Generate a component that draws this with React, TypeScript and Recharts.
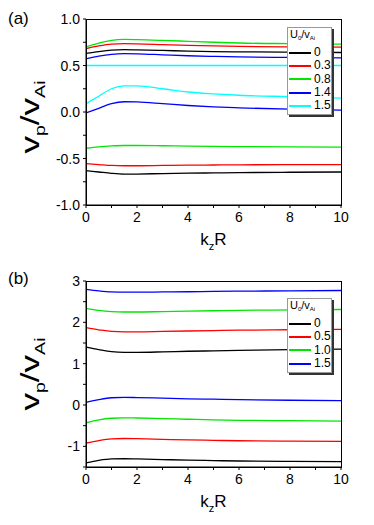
import React from 'react';
import { LineChart, Line, XAxis, YAxis, Legend, Label } from 'recharts';

const FONT = '"Liberation Sans", Arial, sans-serif';

const xValues = [0, 0.5, 1, 1.5, 2, 3, 4, 5, 6, 8, 10];
const xTicks = [0, 1, 2, 3, 4, 5, 6, 7, 8, 9, 10];

// Panel (a)
const aLegendLabels = ['0', '0.3', '0.8', '1.4', '1.5'];
const aColors = ['#000000', '#ff0000', '#00e600', '#0000ff', '#00ffff'];
const aBlackUpper = [0.63, 0.65, 0.665, 0.67, 0.668, 0.662, 0.655, 0.65, 0.647, 0.643, 0.64];
const aBlackLower = [-0.63, -0.645, -0.66, -0.668, -0.667, -0.662, -0.658, -0.655, -0.652, -0.648, -0.645];
const aRedUpper = [0.68, 0.71, 0.73, 0.735, 0.733, 0.725, 0.717, 0.71, 0.705, 0.7, 0.698];
const aRedLower = [-0.555, -0.565, -0.575, -0.578, -0.578, -0.575, -0.572, -0.57, -0.568, -0.566, -0.565];
const aGreenUpper = [0.7, 0.74, 0.77, 0.78, 0.778, 0.77, 0.76, 0.75, 0.742, 0.735, 0.73];
const aGreenLower = [-0.39, -0.375, -0.365, -0.36, -0.36, -0.363, -0.367, -0.37, -0.372, -0.375, -0.377];
const aBlueUpper = [0.57, 0.6, 0.62, 0.627, 0.625, 0.615, 0.605, 0.598, 0.592, 0.587, 0.583];
const aBlueLower = [-0.01, 0.04, 0.09, 0.11, 0.108, 0.09, 0.07, 0.055, 0.045, 0.03, 0.02];
const aCyanUpper = [0.5, 0.5, 0.5, 0.5, 0.5, 0.5, 0.5, 0.5, 0.5, 0.5, 0.5];
const aCyanLower = [0.09, 0.17, 0.25, 0.28, 0.28, 0.25, 0.215, 0.195, 0.18, 0.165, 0.15];
const aYTicks = [-1, -0.75, -0.5, -0.25, 0, 0.25, 0.5, 0.75, 1];

// Panel (b)
const bLegendLabels = ['0', '0.5', '1.0', '1.5'];
const bColors = ['#000000', '#ff0000', '#00e600', '#0000ff'];
const bBlackUpper = [1.4, 1.34, 1.29, 1.275, 1.275, 1.285, 1.3, 1.31, 1.32, 1.34, 1.35];
const bBlackLower = [-1.4, -1.34, -1.305, -1.3, -1.305, -1.32, -1.335, -1.345, -1.355, -1.365, -1.37];
const bRedUpper = [1.87, 1.82, 1.78, 1.77, 1.77, 1.78, 1.79, 1.8, 1.81, 1.82, 1.83];
const bRedLower = [-0.92, -0.86, -0.82, -0.81, -0.815, -0.83, -0.845, -0.855, -0.865, -0.875, -0.88];
const bGreenUpper = [2.34, 2.29, 2.26, 2.25, 2.25, 2.26, 2.27, 2.28, 2.29, 2.3, 2.31];
const bGreenLower = [-0.43, -0.36, -0.32, -0.31, -0.315, -0.33, -0.345, -0.36, -0.37, -0.38, -0.39];
const bBlueUpper = [2.8, 2.76, 2.735, 2.73, 2.73, 2.735, 2.74, 2.75, 2.755, 2.76, 2.77];
const bBlueLower = [0.065, 0.13, 0.175, 0.185, 0.18, 0.165, 0.15, 0.14, 0.13, 0.115, 0.105];
const bYTicks = [-1.5, -1, -0.5, 0, 0.5, 1, 1.5, 2, 2.5, 3];

const aSeries = [
  { key: 'blackU', values: aBlackUpper, color: aColors[0] },
  { key: 'blackL', values: aBlackLower, color: aColors[0] },
  { key: 'redU', values: aRedUpper, color: aColors[1] },
  { key: 'redL', values: aRedLower, color: aColors[1] },
  { key: 'greenU', values: aGreenUpper, color: aColors[2] },
  { key: 'greenL', values: aGreenLower, color: aColors[2] },
  { key: 'blueU', values: aBlueUpper, color: aColors[3] },
  { key: 'blueL', values: aBlueLower, color: aColors[3] },
  { key: 'cyanU', values: aCyanUpper, color: aColors[4] },
  { key: 'cyanL', values: aCyanLower, color: aColors[4] },
];

const bSeries = [
  { key: 'blackU', values: bBlackUpper, color: bColors[0] },
  { key: 'blackL', values: bBlackLower, color: bColors[0] },
  { key: 'redU', values: bRedUpper, color: bColors[1] },
  { key: 'redL', values: bRedLower, color: bColors[1] },
  { key: 'greenU', values: bGreenUpper, color: bColors[2] },
  { key: 'greenL', values: bGreenLower, color: bColors[2] },
  { key: 'blueU', values: bBlueUpper, color: bColors[3] },
  { key: 'blueL', values: bBlueLower, color: bColors[3] },
];

const CHART_W = 374;
const M_LEFT = 46;
const Y_AXIS_W = 40;
const M_RIGHT = 33;
const X_AXIS_H = 30;

const buildData = (series: { key: string; values: number[] }[]) =>
  xValues.map((x, i) => {
    const row: Record<string, number> = { x };
    series.forEach((s) => {
      row[s.key] = s.values[i];
    });
    return row;
  });

const XTick = (props: any) => {
  const { x, y, payload } = props;
  const v = payload.value;
  if (v % 2 !== 0) return <g />;
  return (
    <text x={x} y={y} dy="0.71em" textAnchor="middle" fill="#000" fontSize={14} fontFamily={FONT}>
      {String(v)}
    </text>
  );
};

const makeYTick = (isMajor: (v: number) => boolean, fmt: (v: number) => string) => (props: any) => {
  const { x, y, payload } = props;
  const v = payload.value;
  if (!isMajor(v)) return <g />;
  return (
    <text x={x} y={y} dy="0.36em" textAnchor="end" fill="#000" fontSize={14} fontFamily={FONT}>
      {fmt(v)}
    </text>
  );
};

const aYTick = makeYTick((v) => Math.abs(v * 2 - Math.round(v * 2)) < 1e-9, (v) => v.toFixed(1));
const bYTick = makeYTick((v) => Math.abs(v - Math.round(v)) < 1e-9, (v) => String(v));

const XLabel = (props: any) => {
  const vb = props.viewBox || {};
  const cx = vb.x + vb.width / 2;
  const y = vb.y + 40;
  return (
    <text x={cx} y={y} textAnchor="middle" fill="#000" fontSize={17} fontFamily={FONT}>
      <tspan>k</tspan>
      <tspan fontSize={11} dy={5}>z</tspan>
      <tspan dy={-5}>R</tspan>
    </text>
  );
};

const makeYLabel = (shift: number) => (props: any) => {
  const vb = props.viewBox || {};
  const cy = vb.y + vb.height / 2 + shift;
  return (
    <text
      transform={`translate(39, ${cy}) rotate(-90) scale(1.4, 1)`}
      textAnchor="middle"
      fill="#000"
      fontSize={25}
      fontFamily={FONT}
    >
      <tspan>v</tspan>
      <tspan fontSize={14} dy={6}>p</tspan>
      <tspan dy={-6}>/v</tspan>
      <tspan fontSize={14} dy={6}>Ai</tspan>
    </text>
  );
};

const makeLegend = (labels: string[], colors: string[]) => () => (
  <div
    style={{
      background: '#fff',
      border: '1px solid #999',
      boxShadow: '2px 2px 0 #333',
      width: 43,
      fontFamily: FONT,
      color: '#000',
      paddingBottom: 2,
    }}
  >
    <div style={{ height: 18, lineHeight: '13px', fontSize: 11, paddingLeft: 2 }}>
      U<sub style={{ fontSize: 6, verticalAlign: '-2px' }}>0</sub>/v
      <sub style={{ fontSize: 6, verticalAlign: '-2px' }}>Ai</sub>
    </div>
    {labels.map((l, i) => (
      <div key={l} style={{ display: 'flex', alignItems: 'center', height: 13.3 }}>
        <span
          style={{
            display: 'inline-block',
            width: 22,
            height: 2,
            background: colors[i],
            marginLeft: 1,
          }}
        />
        <span style={{ marginLeft: 3, fontSize: 12, lineHeight: '13px' }}>{l}</span>
      </div>
    ))}
  </div>
);

const Panel = ({
  series,
  yDomain,
  yTicks,
  yTick,
  legendLabels,
  legendColors,
  height,
  marginTop,
  marginBottom,
  legendTop,
  labelShift,
}: any) => {
  const plotLeft = M_LEFT + Y_AXIS_W;
  const plotW = CHART_W - plotLeft - M_RIGHT;
  const plotH = height - marginTop - marginBottom;
  return (
    <div style={{ position: 'relative', width: CHART_W, height }}>
      <LineChart
        width={CHART_W}
        height={height}
        data={buildData(series)}
        margin={{ top: marginTop, right: M_RIGHT, bottom: marginBottom - X_AXIS_H, left: M_LEFT }}
        style={{ fontFamily: FONT }}
      >
        <XAxis
          dataKey="x"
          type="number"
          domain={[0, 10]}
          ticks={xTicks}
          allowDataOverflow
          height={X_AXIS_H}
          tickSize={3}
          tickMargin={4}
          stroke="#000"
          tick={XTick}
          interval={0}
        >
          <Label content={XLabel} />
        </XAxis>
        <YAxis
          type="number"
          domain={yDomain}
          ticks={yTicks}
          allowDataOverflow
          width={Y_AXIS_W}
          tickSize={3}
          tickMargin={3}
          stroke="#000"
          tick={yTick}
          interval={0}
        >
          <Label content={makeYLabel(labelShift)} />
        </YAxis>
        {series.map((s: any) => (
          <Line
            key={s.key}
            dataKey={s.key}
            type="monotone"
            stroke={s.color}
            strokeWidth={1.3}
            dot={false}
            activeDot={false}
            isAnimationActive={false}
            legendType="none"
          />
        ))}
        <Legend
          layout="vertical"
          align="center"
          verticalAlign="middle"
          content={makeLegend(legendLabels, legendColors)}
          wrapperStyle={{ position: 'absolute', left: 287, top: legendTop, width: 'auto', height: 'auto' }}
        />
      </LineChart>
      {/* plot frame (top and right edges of the axes box) */}
      <div
        style={{
          position: 'absolute',
          left: plotLeft - 0.5,
          top: marginTop - 0.5,
          width: plotW + 1,
          height: plotH + 1,
          boxSizing: 'border-box',
          border: '1px solid #000',
          pointerEvents: 'none',
        }}
      />
    </div>
  );
};

export default function App() {
  return (
    <div style={{ position: 'absolute', left: 0, top: 0, width: 374, height: 525, background: '#fff' }}>
      <div style={{ position: 'absolute', left: 0, top: 0 }}>
        <Panel
          series={aSeries}
          yDomain={[-1, 1]}
          yTicks={aYTicks}
          yTick={aYTick}
          legendLabels={aLegendLabels}
          legendColors={aColors}
          height={260}
          marginTop={19}
          marginBottom={55}
          legendTop={27}
          labelShift={5}
        />
      </div>
      <div style={{ position: 'absolute', left: 0, top: 260 }}>
        <Panel
          series={bSeries}
          yDomain={[-1.5, 3]}
          yTicks={bYTicks}
          yTick={bYTick}
          legendLabels={bLegendLabels}
          legendColors={bColors}
          height={265}
          marginTop={21}
          marginBottom={58}
          legendTop={38}
          labelShift={0}
        />
      </div>
      <div style={{ position: 'absolute', left: 8, top: 9, fontFamily: FONT, fontSize: 17, lineHeight: '20px' }}>
        (a)
      </div>
      <div style={{ position: 'absolute', left: 8, top: 269, fontFamily: FONT, fontSize: 17, lineHeight: '20px' }}>
        (b)
      </div>
    </div>
  );
}
